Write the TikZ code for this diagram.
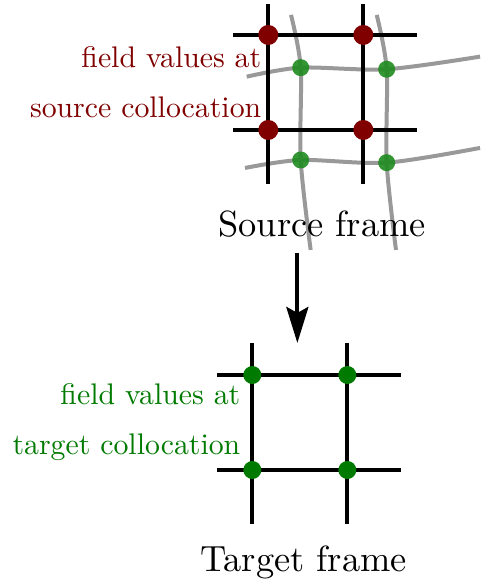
\documentclass[tikz,border=0pt]{standalone}
\usepackage{fontspec}
\setmainfont{lmroman10-regular}[Extension=.otf]
\usetikzlibrary{positioning,arrows.meta}
\definecolor{srcred}{HTML}{800000}
\definecolor{srcgreen}{HTML}{1E8B1E}
\definecolor{tgtgreen}{HTML}{007A00}
\definecolor{warpgray}{HTML}{999999}

\begin{document}
\begin{tikzpicture}[
    x=47.5pt, y=47.5pt,
    >=Stealth,
    gridline/.style={line width=2pt, color=black},
    warpline/.style={line width=2pt, color=warpgray},
    dot/.style={
        circle, fill=#1, inner sep=0pt, minimum size=9pt
    },
    lbl/.style={
        font=\fontsize{14.9}{25}\selectfont, text=#1,
        align=right, anchor=east
    },
    framelbl/.style={font=\fontsize{18.2}{22}\selectfont, anchor=base},
    arr/.style={->, line width=2pt, arrows={-Stealth[length=18pt, width=11pt, inset=3pt]}},
]
\useasboundingbox (-2.656,-1.2105) rectangle (2.397,4.947);

% === Source frame (top) ===
\begin{scope}[shift={(0.168,3.579)}]
    % deformed grid of the source
    \draw[warpline] plot[smooth] coordinates {(-0.227,0.561) (0.341,0.656) (1.246,0.639) (2.229,0.772)};
    \draw[warpline] plot[smooth] coordinates {(-0.245,-0.400) (0.341,-0.316) (1.246,-0.344) (2.229,-0.189)};
    \draw[warpline] plot[smooth] coordinates {(0.239,1.211) (0.341,0.656) (0.341,-0.316) (0.446,-1.263)};
    \draw[warpline] plot[smooth] coordinates {(1.141,1.211) (1.246,0.639) (1.246,-0.344) (1.344,-1.263)};

    % regular grid
    \foreach \i in {0,1} {
        \draw[gridline] (\i,-0.568) -- (\i,1.33);
        \draw[gridline] (-0.37,\i) -- (1.568,\i);
    }

    % collocation points
    \foreach \i in {0,1} {
        \foreach \j in {0,1} {
            \node[dot=srcred, minimum size=10pt] (src-\i\j) at (\i,\j) {};
        }
    }
    \node[dot=srcgreen, opacity=0.9, minimum size=8.5pt] (srcg-01) at (0.341,0.656) {};
    \node[dot=srcgreen, opacity=0.9, minimum size=8.5pt] (srcg-11) at (1.246,0.639) {};
    \node[dot=srcgreen, opacity=0.9, minimum size=8.5pt] (srcg-00) at (0.341,-0.316) {};
    \node[dot=srcgreen, opacity=0.9, minimum size=8.5pt] (srcg-10) at (1.246,-0.344) {};

    \node[lbl=srcred] (srclbl) at (0,0.5) {field values at\\source collocation};
    \node[framelbl] (srcframe) at (0.566,-1.123) {Source frame};

    \coordinate (arrtop) at (0.306,-1.295);
\end{scope}

% === Target frame (bottom) ===
\foreach \i in {0,1} {
    \draw[gridline] (\i,-0.568) -- (\i,1.334);
    \draw[gridline] (-0.375,\i) -- (1.562,\i);
}
\foreach \i in {0,1} {
    \foreach \j in {0,1} {
        \node[dot=tgtgreen] (tgt-\i\j) at (\i,\j) {};
    }
}
\node[lbl=tgtgreen, xshift=-2.5pt] (tgtlbl) at (0,0.5) {field values at\\target collocation};
\node[framelbl] (tgtframe) at (0.539,-1.071) {Target frame};

% Arrow from source to target
\coordinate (arrbot) at (0.474,1.337);
\draw[arr] (arrtop) -- (arrbot);

\end{tikzpicture}
\end{document}
